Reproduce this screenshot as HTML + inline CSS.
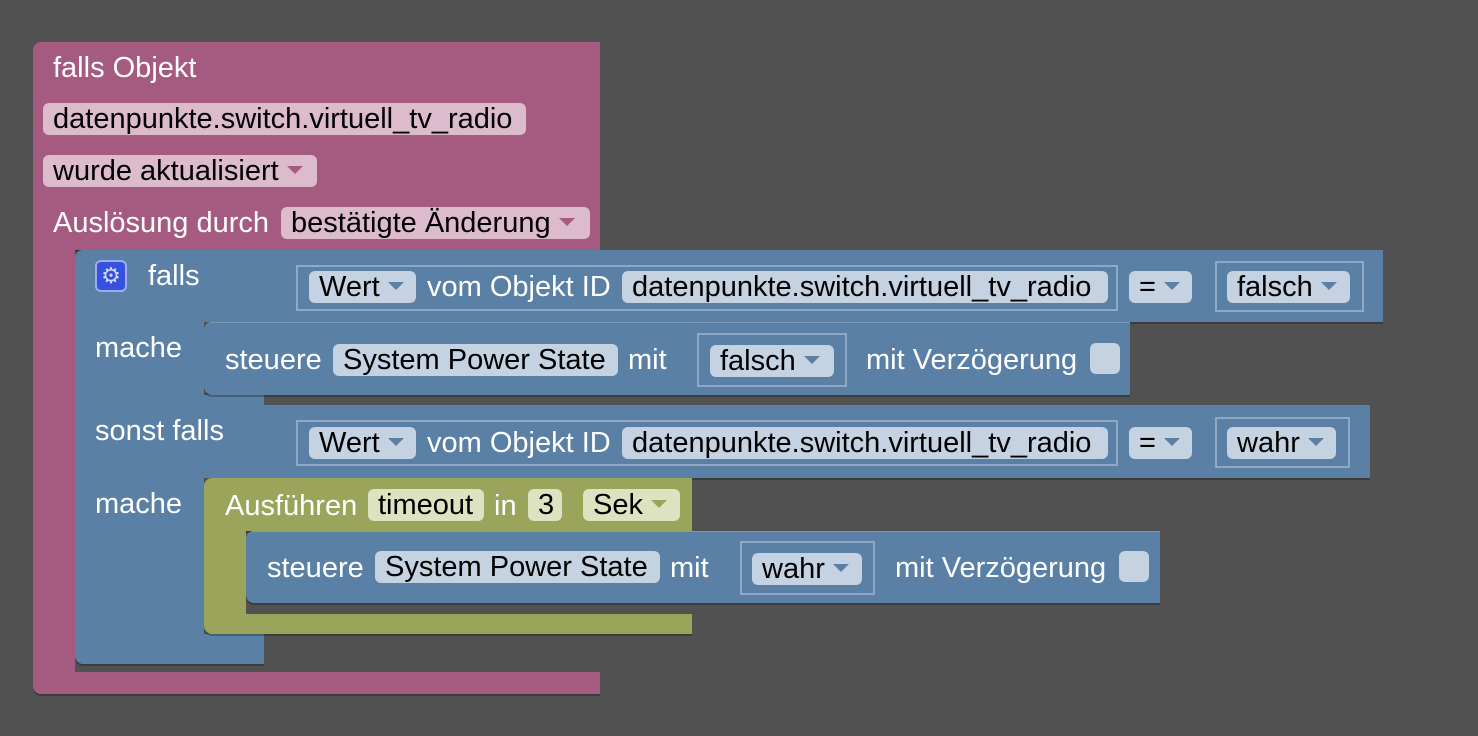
<!DOCTYPE html>
<html><head><meta charset="utf-8"><style>
body{margin:0;width:1478px;height:736px;background:#515151;position:relative;overflow:hidden;font-family:"Liberation Sans",sans-serif;}
div{position:absolute;box-sizing:border-box;}
.t{color:#fff;font-size:29px;white-space:nowrap;line-height:30px;}
.f{font-size:29px;color:#000;border-radius:6px;white-space:nowrap;line-height:32px;height:32px;padding-left:10px;}
.pk{background:#a55b80;}
.bl{background:#5b80a5;}
.ol{background:#9aa55b;}
.fp{background:#dcbccc;}
.fb{background:#c4d2e1;}
.fo{background:#dde2c1;}
.ib{background:#5b80a5;border:2px solid #8fa9c4;}
.ar{display:inline-block;width:0;height:0;border-left:8px solid transparent;border-right:8px solid transparent;border-top:8px solid;margin-left:8px;vertical-align:middle;position:relative;top:-2px;}
.ap{border-top-color:#a55b80}.ab{border-top-color:#5b80a5}.ao{border-top-color:#9aa55b}
.sh{box-shadow:0 2px 0 rgba(0,0,0,0.25);}
</style></head><body>
<!-- pink outer -->
<div class="pk sh" style="left:33px;top:42px;width:567px;height:208px;border-radius:8px 0 0 0;"></div>
<div class="pk" style="left:33px;top:240px;width:42px;height:454px;border-radius:0 0 0 8px;"></div>
<div class="pk sh" style="left:33px;top:672px;width:567px;height:22px;border-radius:0 0 0 8px;"></div>
<div class="t" style="left:53px;top:53px;">falls Objekt</div>
<div class="f fp" style="left:43px;top:103px;width:483px;">datenpunkte.switch.virtuell_tv_radio</div>
<div class="f fp" style="left:43px;top:155px;width:274px;">wurde aktualisiert<span class="ar ap"></span></div>
<div class="t" style="left:53px;top:208px;">Auslösung durch</div>
<div class="f fp" style="left:281px;top:207px;width:309px;">bestätigte Änderung<span class="ar ap"></span></div>

<!-- blue if block -->
<div class="bl sh" style="left:75px;top:250px;width:189px;height:414px;border-radius:8px 0 0 8px;"></div>
<div style="left:204px;top:322px;width:60px;height:312px;background:#515151;"></div>
<div class="bl" style="left:204px;top:395px;width:60px;height:83px;"></div>
<div style="left:95px;top:260px;width:32px;height:32px;background:#3650e0;border-radius:6px;border:2px solid #9aaef0;color:#cfd8ff;font-size:22px;line-height:27px;text-align:center;">⚙</div>
<div class="t" style="left:148px;top:261px;">falls</div>
<div class="t" style="left:95px;top:333px;">mache</div>
<div class="t" style="left:95px;top:416px;">sonst falls</div>
<div class="t" style="left:95px;top:489px;">mache</div>

<!-- compare 1 -->
<div class="bl sh" style="left:264px;top:250px;width:1119px;height:72px;"></div>
<div class="ib" style="left:296px;top:265px;width:822px;height:46px;"></div>
<div class="f fb" style="left:309px;top:271px;width:107px;">Wert<span class="ar ab"></span></div>
<div class="t" style="left:427px;top:272px;">vom Objekt ID</div>
<div class="f fb" style="left:622px;top:271px;width:486px;">datenpunkte.switch.virtuell_tv_radio</div>
<div class="f fb" style="left:1129px;top:271px;width:63px;">=<span class="ar ab"></span></div>
<div class="ib" style="left:1215px;top:261px;width:149px;height:51px;"></div>
<div class="f fb" style="left:1227px;top:271px;width:123px;">falsch<span class="ar ab"></span></div>

<!-- statement 1 -->
<div class="bl sh" style="left:204px;top:322px;width:926px;height:73px;border-radius:8px 0 0 8px;border-top:1px solid #7b9bbb;"></div>
<div class="t" style="left:225px;top:345px;">steuere</div>
<div class="f fb" style="left:333px;top:344px;width:285px;">System Power State</div>
<div class="t" style="left:628px;top:345px;">mit</div>
<div class="ib" style="left:697px;top:333px;width:150px;height:54px;"></div>
<div class="f fb" style="left:710px;top:345px;width:124px;">falsch<span class="ar ab"></span></div>
<div class="t" style="left:866px;top:345px;">mit Verzögerung</div>
<div style="left:1090px;top:343px;width:30px;height:31px;background:#c4d2e1;border-radius:6px;"></div>

<!-- compare 2 -->
<div class="bl sh" style="left:264px;top:405px;width:1106px;height:73px;"></div>
<div class="ib" style="left:296px;top:420px;width:822px;height:46px;"></div>
<div class="f fb" style="left:309px;top:427px;width:107px;">Wert<span class="ar ab"></span></div>
<div class="t" style="left:427px;top:428px;">vom Objekt ID</div>
<div class="f fb" style="left:622px;top:427px;width:486px;">datenpunkte.switch.virtuell_tv_radio</div>
<div class="f fb" style="left:1129px;top:427px;width:63px;">=<span class="ar ab"></span></div>
<div class="ib" style="left:1215px;top:417px;width:135px;height:51px;"></div>
<div class="f fb" style="left:1227px;top:427px;width:109px;">wahr<span class="ar ab"></span></div>

<!-- olive timeout -->
<div class="ol sh" style="left:204px;top:478px;width:488px;height:53px;border-radius:8px 0 0 0;"></div>
<div class="ol" style="left:204px;top:520px;width:42px;height:114px;border-radius:0 0 0 8px;"></div>
<div class="ol sh" style="left:204px;top:614px;width:488px;height:20px;border-radius:0 0 0 8px;"></div>
<div class="t" style="left:225px;top:491px;">Ausführen</div>
<div class="f fo" style="left:368px;top:489px;width:116px;">timeout</div>
<div class="t" style="left:494px;top:491px;">in</div>
<div class="f fo" style="left:528px;top:489px;width:34px;">3</div>
<div class="f fo" style="left:583px;top:489px;width:97px;">Sek<span class="ar ao"></span></div>

<!-- statement 2 -->
<div class="bl sh" style="left:246px;top:531px;width:914px;height:72px;border-radius:8px 0 0 8px;border-top:1px solid #7b9bbb;"></div>
<div class="t" style="left:267px;top:553px;">steuere</div>
<div class="f fb" style="left:375px;top:551px;width:285px;">System Power State</div>
<div class="t" style="left:670px;top:553px;">mit</div>
<div class="ib" style="left:740px;top:541px;width:135px;height:54px;"></div>
<div class="f fb" style="left:752px;top:553px;width:110px;">wahr<span class="ar ab"></span></div>
<div class="t" style="left:895px;top:553px;">mit Verzögerung</div>
<div style="left:1119px;top:551px;width:30px;height:31px;background:#c4d2e1;border-radius:6px;"></div>
</body></html>
